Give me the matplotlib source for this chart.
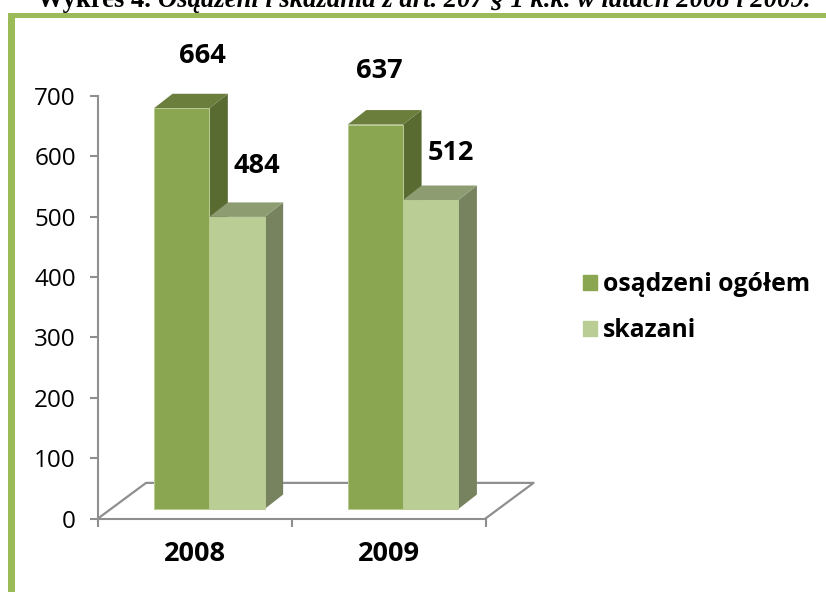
import matplotlib
matplotlib.use('Agg')
import matplotlib.pyplot as plt
from matplotlib.patches import Patch, Rectangle

years = ['2008', '2009']
osadzeni = [664, 637]
skazani = [484, 512]
y_ticks = [0, 100, 200, 300, 400, 500, 600, 700]
series_names = ['osądzeni ogółem', 'skazani']

W, H = 826, 592
plt.rcParams['font.family'] = ['Open Sans', 'DejaVu Sans']

# 3d look, in axis units
bar_w = 0.2855
front_x = 0.289
front_y = 15.7
depth_x = 0.0956
depth_y = 24
floor_x = 0.248
floor_y = 59
axis_col = '#8f8f8f'


def bar3d(ax, x, v, front, side, top):
    y0 = front_y
    y1 = front_y + v
    x1 = x + bar_w
    ax.fill([x1, x1 + depth_x, x1 + depth_x, x1],
            [y0, y0 + depth_y, y1 + depth_y, y1], color=side, lw=0, clip_on=False, zorder=3)
    ax.fill([x, x + depth_x, x1 + depth_x, x1],
            [y1, y1 + depth_y, y1 + depth_y, y1], color=top, lw=0, clip_on=False, zorder=3)
    ax.bar(x, v, bar_w, bottom=y0, align='edge', color=front, edgecolor='#b9cc94',
           linewidth=0.7, clip_on=False, zorder=3)


fig = plt.figure(figsize=(W / 100, H / 100), dpi=100)
ax = fig.add_axes([98 / W, 1 - 518.5 / H, 387.5 / W, 422.5 / H])
ax.set_xlim(0, 2)
ax.set_ylim(0, 700)
ax.patch.set_alpha(0)

# floor
ax.plot([0, floor_x, 2 + floor_x, 2], [0, floor_y, floor_y, 0], color=axis_col, lw=1.6,
        clip_on=False, zorder=2)

for i in range(2):
    bar3d(ax, i + front_x, osadzeni[i], '#8aa650', '#5a6b32', '#6b7e3c')
    bar3d(ax, i + front_x + bar_w, skazani[i], '#bacd94', '#77835e', '#8e9c72')

# value labels, offsets by hand
off_a = [(21, 52), (3.5, 54)]
off_b = [(20, 51), (20.5, 47)]
for i in range(2):
    ax.annotate(str(osadzeni[i]), xy=(i + front_x + bar_w / 2, osadzeni[i] + front_y),
                xytext=(off_a[i][0] * 0.72, off_a[i][1] * 0.72), textcoords='offset points',
                ha='center', va='center', fontsize=19.5, fontweight='bold', color='black', zorder=5)
    ax.annotate(str(skazani[i]), xy=(i + front_x + 1.5 * bar_w, skazani[i] + front_y),
                xytext=(off_b[i][0] * 0.72, off_b[i][1] * 0.72), textcoords='offset points',
                ha='center', va='center', fontsize=19.5, fontweight='bold', color='black', zorder=5)

ax.spines['top'].set_visible(False)
ax.spines['right'].set_visible(False)
ax.spines['left'].set_color(axis_col)
ax.spines['bottom'].set_color(axis_col)
ax.spines['left'].set_linewidth(1.5)
ax.spines['bottom'].set_linewidth(1.5)
ax.set_yticks(y_ticks)
ax.set_xticks([0, 1, 2])
ax.set_xticklabels([])
ax.set_xticks([0.5, 1.5], years, minor=True)
ax.tick_params(axis='y', length=6, width=1.5, color=axis_col, labelsize=17.5, pad=10)
ax.tick_params(axis='x', which='major', length=6, width=1.5, color=axis_col)
ax.tick_params(axis='x', which='minor', length=0, labelsize=19.5, pad=16)
for t in ax.get_xticklabels(minor=True):
    t.set_fontweight('bold')

handles = [Patch(color='#8aa650'), Patch(color='#bacd94')]
fig.legend(handles, series_names, loc='center left', bbox_to_anchor=(583 / W, 1 - 307.5 / H),
           frameon=False, prop={'size': 17.8, 'weight': 'bold'}, handlelength=0.56, handleheight=0.56,
           handletextpad=0.25, labelspacing=0.85, borderpad=0, borderaxespad=0)

# frame, only left and top fall inside the picture
fig.add_artist(Rectangle((8 / W, 0), 7 / W, 1 - 13 / H, transform=fig.transFigure, color='#9bbb59', lw=0))
fig.add_artist(Rectangle((8 / W, 1 - 17.5 / H), 1, 4.5 / H, transform=fig.transFigure, color='#9bbb59', lw=0))

# title is cut by the top of the page
fig.text(37 / W, 1 - 7 / H, 'Wykres 4.', family='Liberation Serif', fontsize=19.2, fontweight='bold',
         va='baseline', ha='left')
fig.text(158 / W, 1 - 7 / H, 'Osądzeni i skazania z art. 207 § 1 k.k. w latach 2008 i 2009.',
         family='Liberation Serif', fontsize=19.2, fontweight='bold', style='italic',
         va='baseline', ha='left')

fig.savefig('out.png', dpi=100)
